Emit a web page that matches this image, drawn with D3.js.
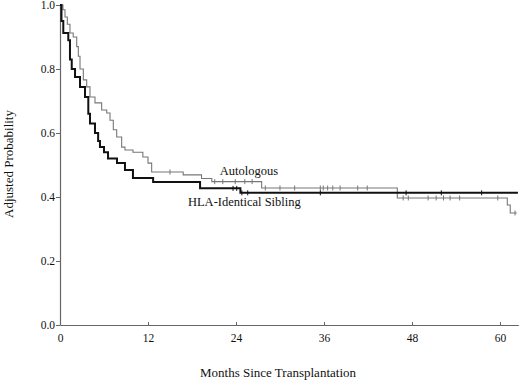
<!DOCTYPE html>
<html lang="en">
<head>
<meta charset="UTF-8">
<script src="https://d3js.org/d3.v7.min.js"></script>
<style>
  body { margin: 0; background: #fff; }
  svg text { font-family: "Liberation Serif", "Times New Roman", serif; fill: #111; }
</style>
</head>
<body>
<div id="container"></div>
<script>
// event times (months) and adjusted probability after each step
var autoTimes = [0, 0.4, 0.68, 1.0, 1.36, 1.8, 2.28, 2.5, 2.73, 3.18, 3.64, 4.09, 4.77, 5.68, 6.37, 6.82, 7.27, 7.73, 8.41, 8.86, 9.95, 11.3, 12.0, 12.5, 16.8, 19.3, 20.7, 27.5, 46.0, 61.0, 61.4, 62.3];
var autoSurv  = [1.0, 0.985, 0.9625, 0.94, 0.9125, 0.9, 0.87, 0.84, 0.80, 0.766, 0.744, 0.7125, 0.694, 0.672, 0.6625, 0.64, 0.61, 0.5875, 0.556, 0.547, 0.54, 0.525, 0.506, 0.478, 0.469, 0.458, 0.448, 0.428, 0.397, 0.375, 0.35, 0.35];

var hlaTimes = [0, 0.2, 0.45, 1.13, 1.36, 1.6, 2.05, 2.73, 3.41, 3.86, 4.09, 4.77, 5.2, 5.45, 6.0, 6.55, 7.77, 8.86, 9.95, 12.7, 19.1, 24.6, 62.45];
var hlaSurv  = [1.0, 0.95, 0.9125, 0.89, 0.83, 0.80, 0.775, 0.744, 0.7125, 0.66, 0.63, 0.60, 0.575, 0.556, 0.54, 0.52, 0.506, 0.484, 0.459, 0.447, 0.427, 0.413, 0.413];

// censoring marks (months)
var autoCensor = [15, 21.1, 22.2, 23.9, 25.2, 26.2, 28, 30, 32, 35.5, 35.9, 36.5, 37.2, 38.2, 40.6, 41.9, 46.8, 47.5, 50.2, 51.3, 52.3, 53.2, 54.5, 59.7, 62.05];
var hlaCensor  = [23.6, 24.1, 24.8, 25.6, 35.5, 47.2, 52.0, 57.5];

var xTicks = [0, 12, 24, 36, 48, 60];
var yTicks = [0, 0.2, 0.4, 0.6, 0.8, 1.0];

var width = 520, height = 382;
var margin = {top: 5, left: 60, right: 2, bottom: 57};

var svg = d3.select("#container").append("svg")
    .attr("width", width).attr("height", height);

var x = d3.scaleLinear().domain([0, 62.5]).range([margin.left, margin.left + 458.3]);
var y = d3.scaleLinear().domain([0, 1]).range([height - margin.bottom, margin.top]);

// axes
var xAxis = d3.axisBottom(x).tickValues(xTicks).tickSize(-3).tickSizeOuter(0).tickPadding(9);
var yAxis = d3.axisLeft(y).tickValues(yTicks).tickFormat(d3.format(".1f")).tickSize(4).tickSizeOuter(0).tickPadding(1);

var gx = svg.append("g").attr("transform", "translate(0," + y(0) + ")").call(xAxis);
var gy = svg.append("g").attr("transform", "translate(" + x(0) + ",0)").call(yAxis);
[gx, gy].forEach(function(g) {
  g.select(".domain").attr("stroke", "#666").attr("stroke-width", 1.2);
  g.selectAll(".tick line").attr("stroke", "#666");
  g.selectAll(".tick text").style("font-size", "11.5px").attr("fill", "#111");
});

// step curves
var line = d3.line()
    .x(function(d) { return x(d[0]); })
    .y(function(d) { return y(d[1]); })
    .curve(d3.curveStepAfter);

var autoData = autoTimes.map(function(t, i) { return [t, autoSurv[i]]; });
var hlaData = hlaTimes.map(function(t, i) { return [t, hlaSurv[i]]; });

svg.append("path").datum(autoData).attr("d", line)
    .attr("fill", "none").attr("stroke", "#777").attr("stroke-width", 1.1);
svg.append("path").datum(hlaData).attr("d", line)
    .attr("fill", "none").attr("stroke", "#111").attr("stroke-width", 2);

// value of a step curve at time t
function stepAt(times, surv, t) {
  var i = d3.bisectRight(times, t) - 1;
  return surv[Math.max(0, i)];
}

svg.selectAll(".cauto").data(autoCensor).enter().append("line")
    .attr("class", "cauto")
    .attr("x1", function(d) { return x(d); }).attr("x2", function(d) { return x(d); })
    .attr("y1", function(d) { return y(stepAt(autoTimes, autoSurv, d)) - 2.5; })
    .attr("y2", function(d) { return y(stepAt(autoTimes, autoSurv, d)) + 2.5; })
    .attr("stroke", "#777").attr("stroke-width", 1);

svg.selectAll(".chla").data(hlaCensor).enter().append("line")
    .attr("class", "chla")
    .attr("x1", function(d) { return x(d); }).attr("x2", function(d) { return x(d); })
    .attr("y1", function(d) { return y(stepAt(hlaTimes, hlaSurv, d)) - 2.5; })
    .attr("y2", function(d) { return y(stepAt(hlaTimes, hlaSurv, d)) + 2.5; })
    .attr("stroke", "#111").attr("stroke-width", 1);

// curve labels
svg.append("text").attr("x", x(21.8)).attr("y", y(0.469))
    .style("font-size", "12.5px").text("Autologous");
svg.append("text").attr("x", x(17.45)).attr("y", y(0.372))
    .style("font-size", "12.5px").text("HLA-Identical Sibling");

// axis titles
svg.append("text").attr("x", 278).attr("y", 377)
    .attr("text-anchor", "middle").style("font-size", "13px")
    .text("Months Since Transplantation");
svg.append("text")
    .attr("transform", "translate(13,164) rotate(-90)")
    .attr("text-anchor", "middle").style("font-size", "13px")
    .text("Adjusted Probability");
</script>
</body>
</html>
